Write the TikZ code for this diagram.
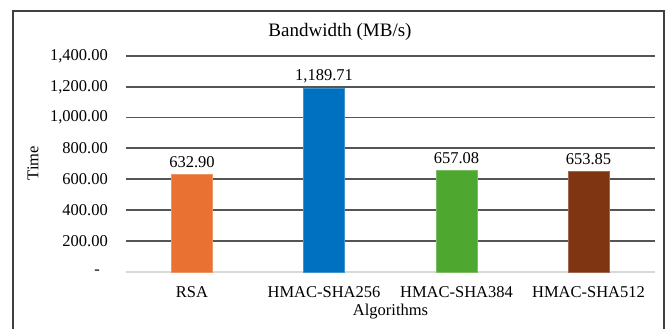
\documentclass[tikz,border=0pt]{standalone}
\usepackage{fontspec}
\setmainfont{Liberation Serif}
\definecolor{rsacol}{HTML}{E97132}
\definecolor{shaAcol}{HTML}{0070C0}
\definecolor{shaBcol}{HTML}{4EA72E}
\definecolor{shaCcol}{HTML}{7F3511}
\definecolor{gridcol}{HTML}{555555}
\begin{document}
\begin{tikzpicture}[x=1pt,y=-1pt,
  grid/.style={draw=gridcol,line width=1.6pt},
  bar/.style={fill=#1,draw=#1!75!white,line width=0.6pt},
  tick/.style={anchor=east,font=\fontsize{16.5}{18}\selectfont,inner sep=0},
  val/.style={font=\fontsize{16.5}{18}\selectfont,inner sep=0},
  cat/.style={font=\fontsize{16.5}{18}\selectfont,inner sep=0}]
\useasboundingbox (0,0) rectangle (671,329);
\fill[white] (0,0) rectangle (671,329);
\draw[line width=1.5pt,draw=black!75] (13,329) -- (13,11) -- (664,11) -- (664,329);
\node[font=\fontsize{19}{21}\selectfont,inner sep=0] (title) at (340,32) {Bandwidth (MB/s)};
\draw[grid] (126,56) -- (655,56);
\draw[grid] (126,87) -- (655,87);
\draw[grid] (126,117.5) -- (655,117.5);
\draw[grid] (126,148) -- (655,148);
\draw[grid] (126,179) -- (655,179);
\draw[grid] (126,210) -- (655,210);
\draw[grid] (126,241) -- (655,241);
\draw[draw=black!15,line width=1.5pt] (126,272) -- (655,272);
\node[tick] (t1400) at (108,56) {1,400.00};
\node[tick] (t1200) at (108,87) {1,200.00};
\node[tick] (t1000) at (108,117.5) {1,000.00};
\node[tick] (t800) at (108,148) {800.00};
\node[tick] (t600) at (108,179) {600.00};
\node[tick] (t400) at (108,210) {400.00};
\node[tick] (t200) at (108,241) {200.00};
\node[tick] (t0) at (100,272) {-};
\draw[bar=rsacol] (171.5,174.3) rectangle (212.5,272);
\draw[bar=shaAcol] (303.5,88.4) rectangle (344.5,272);
\draw[bar=shaBcol] (436,170.6) rectangle (477,272);
\draw[bar=shaCcol] (568,171.1) rectangle (609,272);
\node[val] (vrsa) at (192,162) {632.90};
\node[val] (vshaA) at (324,76) {1,189.71};
\node[val] (vshaB) at (456.5,158.6) {657.08};
\node[val] (vshaC) at (588.5,159.1) {653.85};
\node[cat] (crsa) at (192,292) {RSA};
\node[cat] (cshaA) at (324,292) {HMAC-SHA256};
\node[cat] (cshaB) at (456.5,292) {HMAC-SHA384};
\node[cat] (cshaC) at (588.5,292) {HMAC-SHA512};
\node[cat] (xlabel) at (390.5,312) {Algorithms};
\node[cat,rotate=90] (ylabel) at (33,163) {Time};
\end{tikzpicture}
\end{document}
